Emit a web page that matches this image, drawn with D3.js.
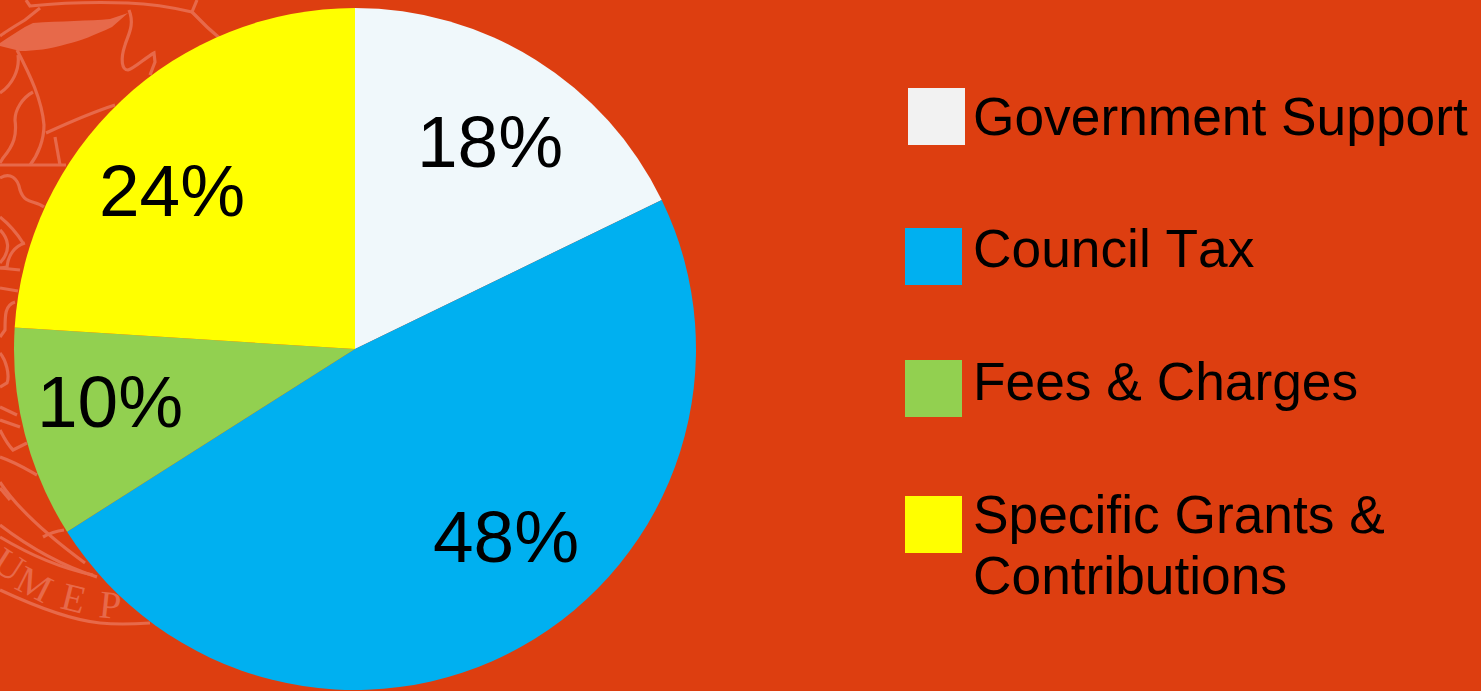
<!DOCTYPE html>
<html><head><meta charset="utf-8">
<style>html,body{margin:0;padding:0;background:#DD3E10;overflow:hidden}svg{display:block}text{font-family:"Liberation Sans",Arial,sans-serif;fill:#000}</style>
<script src="https://cdn.jsdelivr.net/npm/d3@7"></script>
</head><body><svg id="c" width="1481" height="691"></svg>
<script>
const categories=["Government Support","Council Tax","Fees & Charges","Specific Grants & Contributions"];
const values=[17.8,48.2,10,24];
const labels=["18%","48%","10%","24%"];
const sliceColors=["#F0F8FB","#00B0F0","#92D050","#FFFF00"];
const legendColors=["#F2F2F2","#00B0F0","#92D050","#FFFF00"];
const legendLines=[["Government Support"],["Council Tax"],["Fees & Charges"],["Specific Grants &","Contributions"]];
const legendBoxes=[[908,88],[905,228],[905,360],[905,496]];
const legendTextY=[135,267,400,533];
const labelPos=[[490,167],[506,562],[110,427],[172,216]];
const crest=[
"M26,0 L30,6 C60,3 100,2 128,3 C155,4 175,8 192,12 L197,0",
"M192,12 L205,25 C212,32 218,36 224,42",
"M40,8 L25,20 C15,26 5,32 0,36",
"M129,10 C135,25 128,35 125,45 C120,60 122,70 128,70 C135,68 145,58 154,53 L155,62 L150,75",
"M17,50 C30,75 42,100 44,125 C44,140 38,155 30,165",
"M18,55 C20,70 12,85 0,93",
"M33,92 C22,98 15,110 15,120 C17,135 14,145 3,158 L0,163",
"M46,133 C70,122 90,113 115,105",
"M55,137 L60,165","M0,165 L66,165",
"M0,178 C10,172 18,178 20,190 C25,205 35,200 44,207",
"M0,217 C10,225 18,235 23,243","M0,230 C8,238 12,250 0,263",
"M25,243 C15,246 8,255 7,267 L0,268","M0,268 L20,270","M0,288 L18,291",
"M15,302 C5,305 5,315 5,330 L0,337","M0,353 C6,360 10,375 7,383 L0,387",
"M0,407 L17,415","M0,420 L20,427","M0,430 C5,440 10,447 13,450 L27,443",
"M0,457 C15,462 28,470 37,475","M0,488 L10,500",
"M0,482 C15,505 40,530 85,563","M43,537 C50,533 56,531 64,530",
"M0,525 C30,548 60,565 97,577","M0,537 C30,555 60,568 93,575",
"M0,590 C30,604 70,620 100,623 C120,625 135,624 150,623"
];
const crestFill="M0,43 C12,35 22,28 33,23 C60,21 90,21 110,19 L128,13 L112,27 C95,35 80,41 67,44 C50,49 35,51 20,51 L0,46Z";
const crestLetters=[["U",-10,568,33],["M",13,588,27],["E",59,608,14],["P",98,617,6]];
const W=1481,H=691,cx=355,cy=349,r=341;
const svg=d3.select("#c");
svg.append("rect").attr("width",W).attr("height",H).attr("fill","#DD3E10");
const wm=svg.append("g").attr("fill","none").attr("stroke","#E7694A").attr("stroke-width",3.2);
wm.selectAll("path.l").data(crest).join("path").attr("class","l").attr("d",d=>d);
wm.append("path").attr("d",crestFill).attr("fill","#E7694A").attr("stroke","none");
wm.append("g").selectAll("text").data(crestLetters).join("text")
  .attr("transform",d=>`translate(${d[1]},${d[2]}) rotate(${d[3]})`).text(d=>d[0])
  .style("font-family","'Liberation Serif',serif").style("font-size","39px").style("fill","#E7694A").attr("stroke","none");
const pie=d3.pie().sort(null).value(d=>d)(values);
const arc=d3.arc().innerRadius(0).outerRadius(r);
const g=svg.append("g").attr("transform",`translate(${cx},${cy})`);
g.selectAll("path").data(pie).join("path").attr("d",arc).attr("fill",(d,i)=>sliceColors[i]);
svg.append("g").selectAll("text").data(labels).join("text")
  .attr("x",(d,i)=>labelPos[i][0]).attr("y",(d,i)=>labelPos[i][1]).attr("text-anchor","middle")
  .style("font-size","73px").text(d=>d);
const leg=svg.append("g").selectAll("g").data(categories).join("g");
leg.append("rect").attr("x",(d,i)=>legendBoxes[i][0]).attr("y",(d,i)=>legendBoxes[i][1]).attr("width",57).attr("height",57).attr("fill",(d,i)=>legendColors[i]);
leg.each(function(d,i){
  d3.select(this).selectAll("text").data(legendLines[i]).join("text")
   .attr("x",973).attr("y",(t,j)=>legendTextY[i]+j*61).style("font-size","53.3px").style("font-kerning","none").text(t=>t);
});
</script></body></html>
